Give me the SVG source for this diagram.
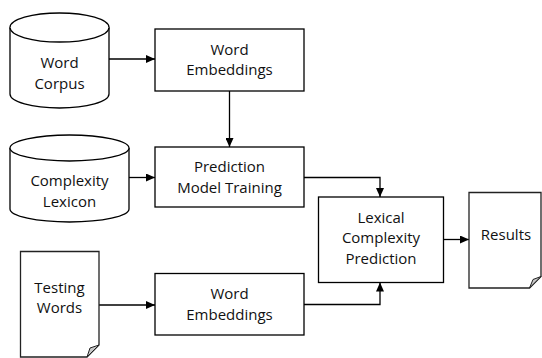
<svg xmlns="http://www.w3.org/2000/svg" width="542" height="358" viewBox="0 0 542 358">
<defs>
<marker id="ah" markerWidth="9" markerHeight="8" refX="9" refY="4" orient="auto" markerUnits="userSpaceOnUse">
<path d="M0,0 L9,4 L0,8 Z" fill="#000"/>
</marker>
<style>
.box{fill:#fff;stroke:#000;stroke-width:1.3}
.doc{fill:#fff;stroke:#222;stroke-width:1.3}
.fold{fill:#c8c8c8;stroke:#222;stroke-width:1}
.t{font-family:"Open Sans","Noto Sans",sans-serif;font-size:15px;fill:#111;text-anchor:middle}
.c{fill:none;stroke:#000;stroke-width:1.3}
</style>
</defs>
<rect width="542" height="358" fill="#fff"/>
<g id="connectors">
<path class="c" d="M109,59 H155" marker-end="url(#ah)"/>
<path class="c" d="M229.5,91 V147" marker-end="url(#ah)"/>
<path class="c" d="M129,177.5 H155" marker-end="url(#ah)"/>
<path class="c" d="M304,177.5 H380 V197" marker-end="url(#ah)"/>
<path class="c" d="M99,305 H155" marker-end="url(#ah)"/>
<path class="c" d="M304,304.5 H380 V282.5" marker-end="url(#ah)"/>
<path class="c" d="M443.5,239.5 H469" marker-end="url(#ah)"/>
</g>
<g id="word-corpus">
<path class="box" d="M10,27.5 A49.5,14.5 0 0 1 109,27.5 V94 A49.5,14 0 0 1 10,94 Z"/>
<path class="box" d="M10,27.5 A49.5,14.5 0 0 0 109,27.5"/>
<text class="t" x="59.5" y="68">Word</text>
<text class="t" x="59.5" y="89">Corpus</text>
</g>
<g id="word-embeddings-1">
<rect class="box" x="155" y="29" width="149" height="62"/>
<text class="t" x="229.5" y="55">Word</text>
<text class="t" x="229.5" y="75">Embeddings</text>
</g>
<g id="complexity-lexicon">
<path class="box" d="M10,148 A59.5,13 0 0 1 129,148 V209 A59.5,13 0 0 1 10,209 Z"/>
<path class="box" d="M10,148 A59.5,13 0 0 0 129,148"/>
<text class="t" x="69.5" y="186">Complexity</text>
<text class="t" x="69.5" y="207">Lexicon</text>
</g>
<g id="prediction-model-training">
<rect class="box" x="155" y="147" width="149" height="60"/>
<text class="t" x="229.5" y="172">Prediction</text>
<text class="t" x="229.5" y="193">Model Training</text>
</g>
<g id="testing-words">
<path class="doc" d="M20.5,251.5 H99 V345 L87,357 H20.5 Z"/>
<path class="fold" d="M99,345 L87,357 L90,348 Z"/>
<text class="t" x="59.5" y="293">Testing</text>
<text class="t" x="59.5" y="313">Words</text>
</g>
<g id="word-embeddings-2">
<rect class="box" x="155" y="273.5" width="149" height="61.5"/>
<text class="t" x="229.5" y="299">Word</text>
<text class="t" x="229.5" y="320">Embeddings</text>
</g>
<g id="lexical-complexity-prediction">
<rect class="box" x="318.5" y="197" width="125" height="85.5"/>
<text class="t" x="381" y="222.5">Lexical</text>
<text class="t" x="381" y="243">Complexity</text>
<text class="t" x="381" y="264">Prediction</text>
</g>
<g id="results">
<path class="doc" d="M469,192.5 H541 V276.5 L529.5,288 H469 Z"/>
<path class="fold" d="M541,276.5 L529.5,288 L533,279.5 Z"/>
<text class="t" x="506" y="240">Results</text>
</g>
</svg>
